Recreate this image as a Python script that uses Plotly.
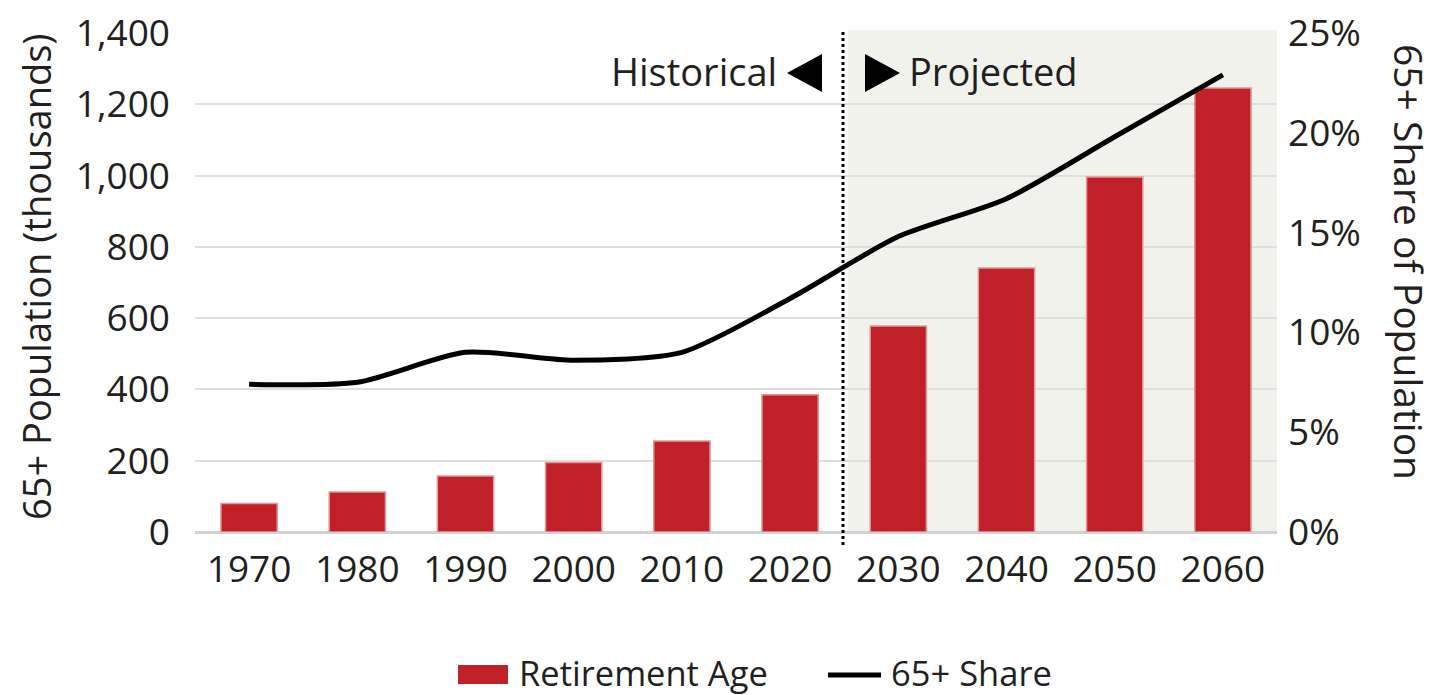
import plotly.graph_objects as go

years = ["1970", "1980", "1990", "2000", "2010", "2020", "2030", "2040", "2050", "2060"]
population_65 = [80, 112, 157, 195, 255, 385, 578, 741, 996, 1246]
share_65 = [7.4, 7.5, 9.0, 8.6, 9.0, 11.7, 14.8, 16.7, 19.8, 22.9]
left_ticks = [0, 200, 400, 600, 800, 1000, 1200, 1400]
left_tick_text = ["0", "200", "400", "600", "800", "1,000", "1,200", "1,400"]
right_ticks = [0, 5, 10, 15, 20, 25]
right_tick_text = ["0%", "5%", "10%", "15%", "20%", "25%"]

FONT = "Open Sans"
RED = "rgb(192,32,40)"
TXT = "#231f20"

# plot area at x 195..1277, y 33..532 of the window (body margin removed by post_script)
PL, PR, PT, PB = 195, 1277, 33, 532
PW, PH = PR - PL, PB - PT


def px(x):
    return (x - PL) / PW


def py(y):
    return (PB - y) / PH


fig = go.Figure()
fig.add_trace(go.Bar(
    x=years, y=population_65, name="Retirement Age",
    marker=dict(color=RED, line=dict(color="rgb(228,150,154)", width=1.5)),
    width=0.52, showlegend=False,
))
fig.add_trace(go.Scatter(
    x=years, y=share_65, name="65+ Share", yaxis="y2", mode="lines",
    line=dict(color="black", width=5, shape="spline", smoothing=0.7),
    showlegend=False,
))

# projected shading
fig.add_shape(type="rect", xref="paper", yref="paper", x0=px(848), x1=1.0, y0=0, y1=py(30),
              fillcolor="rgb(242,242,237)", line=dict(width=0), layer="below")
# divider
fig.add_shape(type="line", xref="paper", yref="paper", x0=px(843), x1=px(843),
              y0=py(545), y1=py(30), line=dict(color="black", width=3, dash="dot"))
# triangles
fig.add_shape(type="path", xref="paper", yref="paper",
              path=f"M {px(787)} {py(73)} L {px(822)} {py(54)} L {px(822)} {py(92)} Z",
              fillcolor="black", line=dict(width=0))
fig.add_shape(type="path", xref="paper", yref="paper",
              path=f"M {px(900)} {py(73)} L {px(865)} {py(54)} L {px(865)} {py(92)} Z",
              fillcolor="black", line=dict(width=0))

ann_font = dict(family=FONT, size=38, color=TXT)
fig.add_annotation(text="Historical", xref="paper", yref="paper", x=px(779), y=py(71),
                   xanchor="right", yanchor="middle", showarrow=False, font=ann_font)
fig.add_annotation(text="Projected", xref="paper", yref="paper", x=px(907), y=py(71),
                   xanchor="left", yanchor="middle", showarrow=False, font=ann_font)

# axis titles
fig.add_annotation(text="65+ Population (thousands)", xref="paper", yref="paper",
                   x=px(36), y=py(277), textangle=-90, showarrow=False,
                   xanchor="center", yanchor="middle", font=ann_font)
fig.add_annotation(text="65+ Share of Population", xref="paper", yref="paper",
                   x=px(1410), y=py(262), textangle=90, showarrow=False,
                   xanchor="center", yanchor="middle", font=dict(family=FONT, size=39, color=TXT))

# custom legend
leg_font = dict(family=FONT, size=34.5, color=TXT)
fig.add_shape(type="rect", xref="paper", yref="paper", x0=px(458), x1=px(508),
              y0=py(684), y1=py(665), fillcolor=RED, line=dict(width=0))
fig.add_annotation(text="Retirement Age", xref="paper", yref="paper", x=px(517), y=py(672),
                   xanchor="left", yanchor="middle", showarrow=False, font=leg_font)
fig.add_shape(type="line", xref="paper", yref="paper", x0=px(828), x1=px(881),
              y0=py(675), y1=py(675), line=dict(color="black", width=5))
fig.add_annotation(text="65+ Share", xref="paper", yref="paper", x=px(889), y=py(672),
                   xanchor="left", yanchor="middle", showarrow=False, font=leg_font)

tick_font = dict(family=FONT, size=37, color=TXT)
W, H = 1437, 695
fig.update_layout(
    width=W, height=H,
    margin=dict(l=PL, r=W - PR, t=PT, b=H - PB, pad=0),
    paper_bgcolor="white", plot_bgcolor="rgba(0,0,0,0)",
    xaxis=dict(type="category", tickfont=tick_font, showgrid=False, showline=False,
               ticks="", ticklabelstandoff=12, range=[-0.5, 9.5], zeroline=False,
               automargin=False),
    yaxis=dict(range=[0, 1400], tickvals=left_ticks, ticktext=left_tick_text, tickfont=tick_font,
               showgrid=True, gridcolor="rgb(222,222,222)", gridwidth=2, zeroline=True,
               zerolinecolor="rgb(210,210,210)", zerolinewidth=2.5, ticks="", ticklabelstandoff=24,
               ticklabeloverflow="allow", automargin=False),
    yaxis2=dict(range=[0, 25], tickvals=right_ticks, ticktext=right_tick_text, tickfont=tick_font,
                overlaying="y", side="right", showgrid=False, zeroline=False, ticks="",
                ticklabelstandoff=10, ticklabeloverflow="allow", automargin=False),
    showlegend=False,
)

fig.write_html("out.html", config={"displayModeBar": False},
               post_script="document.body.style.margin='0';document.body.style.overflow='hidden';")
